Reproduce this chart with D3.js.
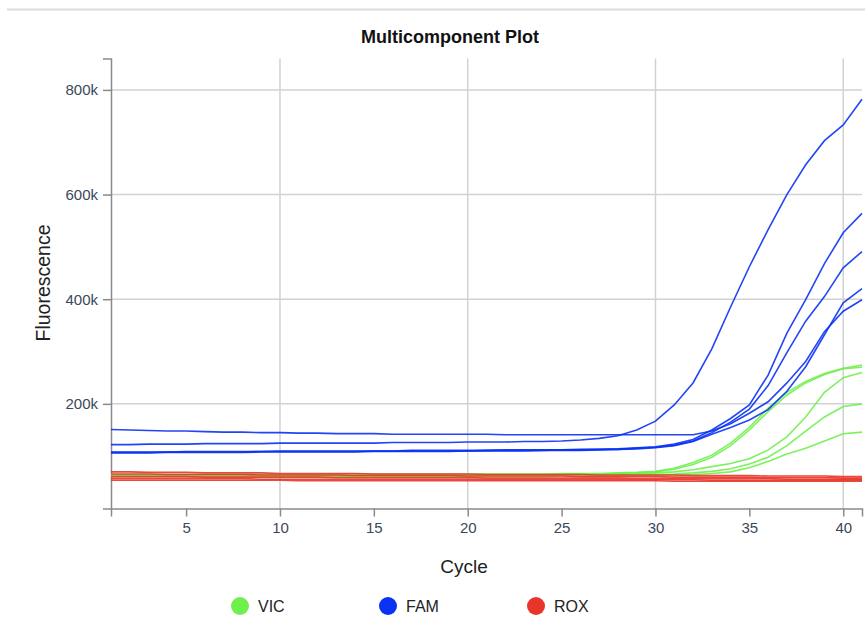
<!DOCTYPE html>
<html>
<head>
<meta charset="utf-8">
<script src="https://cdn.jsdelivr.net/npm/d3@7"></script>
<style>
  body { margin: 0; background: #fff; }
  svg { display: block; font-family: "Helvetica Neue", Helvetica, Arial, "Liberation Sans", sans-serif; }
  .tick text { fill: #3b4859; font-size: 15px; }
  .axis path, .axis line { stroke: #8a8a8a; stroke-width: 1.5; }
  .grid line { stroke: #d2d2d2; stroke-width: 1.5; }
</style>
</head>
<body>
<svg id="chart" width="865" height="618"></svg>
<script>
// cycle numbers (x)
const cycles = [1, 2, 3, 4, 5, 6, 7, 8, 9, 10, 11, 12, 13, 14, 15, 16, 17, 18, 19, 20,
  21, 22, 23, 24, 25, 26, 27, 28, 29, 30, 31, 32, 33, 34, 35, 36, 37, 38, 39, 40, 41];

// fluorescence, in thousands
const famWells = [
  [122,122,123,123,123,124,124,124,124,125,125,125,125,125,125,126,126,126,126,127,127,127,128,128,129,131,134,139,150,167,198,240,305,385,462,533,600,657,703,733,782],
  [151,150,149,148,148,147,146,146,145,145,144,144,143,143,143,142,142,142,142,142,142,141,141,141,141,141,141,141,141,141,141,141,148,162,182,204,240,281,338,377,399],
  [108,108,108,108,109,109,109,109,109,110,110,110,110,110,110,110,111,111,111,111,111,112,112,112,112,113,113,114,116,118,123,132,150,172,198,255,335,399,468,527,564],
  [107,107,107,108,108,108,108,108,109,109,109,109,109,109,110,110,110,110,110,110,111,111,111,111,112,112,113,113,115,117,121,129,145,165,190,235,298,358,405,460,491],
  [106,106,106,107,107,107,107,107,108,108,108,108,108,108,109,109,109,109,109,110,110,110,110,111,111,111,112,113,114,116,120,128,142,155,169,189,224,271,332,393,420],
];

const vicWells = [
  [65,65,65,65,65,65,65,65,65,65,65,65,66,66,66,66,66,66,66,66,66,66,66,66,67,67,67,68,69,71,77,88,102,125,155,192,222,243,258,268,274],
  [64,64,64,64,64,64,64,64,64,64,64,64,64,64,65,65,65,65,65,65,65,65,65,65,65,66,66,67,68,70,75,84,98,120,150,185,217,240,256,267,270],
  [63,63,63,63,63,63,63,63,63,63,63,63,63,63,63,63,63,63,63,63,64,64,64,64,64,64,64,65,66,68,70,74,80,86,95,112,137,175,222,250,260],
  [62,62,62,62,62,62,62,62,62,62,62,62,62,62,62,62,62,62,62,62,62,62,62,63,63,63,63,64,64,65,66,68,71,76,85,98,120,148,175,195,200],
  [61,61,61,61,61,61,61,61,61,61,61,61,61,61,61,61,61,61,61,61,61,61,61,61,62,62,62,62,63,63,64,65,67,70,78,90,104,115,129,143,146],
];

const roxWells = [
  [70,70,69,69,69,68,68,68,68,67,67,67,67,67,66,66,66,66,66,66,65,65,65,65,65,65,64,64,64,64,64,63,63,63,63,62,62,62,62,61,61],
  [66,66,66,65,65,65,65,65,64,64,64,64,64,63,63,63,63,63,63,62,62,62,62,62,62,61,61,61,61,61,60,60,60,60,60,59,59,59,59,58,58],
  [61,61,61,61,61,60,60,60,60,60,60,60,59,59,59,59,59,59,59,59,58,58,58,58,58,58,58,58,57,57,57,57,57,57,57,57,56,56,56,56,56],
  [57,57,57,57,57,57,57,57,56,56,56,56,56,56,56,56,56,56,56,56,55,55,55,55,55,55,55,55,55,55,55,55,54,54,54,54,54,54,54,54,54],
  [54,54,54,54,54,54,54,54,54,54,53,53,53,53,53,53,53,53,53,53,53,53,53,53,53,53,53,53,53,53,52,52,52,52,52,52,52,52,52,52,52],
];

const dyes = ["VIC", "FAM", "ROX"];
const dyeColors = { VIC: "#6ff04c", FAM: "#0a32f5", ROX: "#e8352b" };
const xTicks = [5, 10, 15, 20, 25, 30, 35, 40];
const xGrid = [10, 20, 30, 40];
const yTicks = [200000, 400000, 600000, 800000];

const svg = d3.select("#chart");

const x = d3.scaleLinear().domain([1, 41]).range([111, 862]);
const y = d3.scaleLinear().domain([0, 860000]).range([508.5, 58.5]);

// thin rule at the very top
svg.append("line")
  .attr("x1", 7).attr("x2", 865)
  .attr("y1", 9.5).attr("y2", 9.5)
  .attr("stroke", "#dcdcdc")
  .attr("stroke-width", 2);

svg.append("text")
  .attr("x", 450)
  .attr("y", 43)
  .attr("text-anchor", "middle")
  .style("font-size", "18px")
  .style("font-weight", "700")
  .style("fill", "#111")
  .text("Multicomponent Plot");

// grid
const grid = svg.append("g").attr("class", "grid");
grid.selectAll(".hgrid")
  .data(yTicks)
  .join("line")
  .attr("class", "hgrid")
  .attr("x1", x.range()[0]).attr("x2", x.range()[1])
  .attr("y1", (d) => y(d)).attr("y2", (d) => y(d));
grid.selectAll(".vgrid")
  .data(xGrid)
  .join("line")
  .attr("class", "vgrid")
  .attr("x1", (d) => x(d)).attr("x2", (d) => x(d))
  .attr("y1", y.range()[1]).attr("y2", y.range()[0]);

// axes
svg.append("g")
  .attr("class", "axis")
  .attr("transform", `translate(0,${y.range()[0]})`)
  .call(d3.axisBottom(x).tickValues(xTicks).tickSize(8).tickPadding(6));

svg.append("g")
  .attr("class", "axis")
  .attr("transform", `translate(${x.range()[0]},0)`)
  .call(d3.axisLeft(y).tickValues(yTicks).tickSize(8).tickPadding(5)
    .tickFormat((d) => d / 1000 + "k"));

svg.selectAll(".axis .domain").attr("fill", "none");

// lines
const line = d3.line()
  .x((d, i) => x(cycles[i]))
  .y((d) => y(d * 1000));

const series = [];
vicWells.forEach((w) => series.push({ dye: "VIC", values: w }));
roxWells.forEach((w) => series.push({ dye: "ROX", values: w }));
famWells.forEach((w) => series.push({ dye: "FAM", values: w }));

svg.append("g")
  .selectAll("path")
  .data(series)
  .join("path")
  .attr("fill", "none")
  .attr("stroke", (d) => dyeColors[d.dye])
  .attr("stroke-width", 1.6)
  .attr("stroke-opacity", 0.9)
  .attr("d", (d) => line(d.values));

// axis titles
svg.append("text")
  .attr("transform", "translate(50,283) rotate(-90)")
  .attr("text-anchor", "middle")
  .style("font-size", "19.5px")
  .style("fill", "#222")
  .text("Fluorescence");

svg.append("text")
  .attr("x", 464)
  .attr("y", 573)
  .attr("text-anchor", "middle")
  .style("font-size", "19px")
  .style("fill", "#222")
  .text("Cycle");

// legend
const legend = svg.append("g")
  .selectAll("g")
  .data(dyes)
  .join("g")
  .attr("transform", (d, i) => `translate(${240 + i * 148},606)`);

legend.append("circle")
  .attr("r", 9)
  .attr("fill", (d) => dyeColors[d]);

legend.append("text")
  .attr("x", 18)
  .attr("dy", "0.35em")
  .style("font-size", "16px")
  .style("fill", "#222")
  .text((d) => d);
</script>
</body>
</html>
